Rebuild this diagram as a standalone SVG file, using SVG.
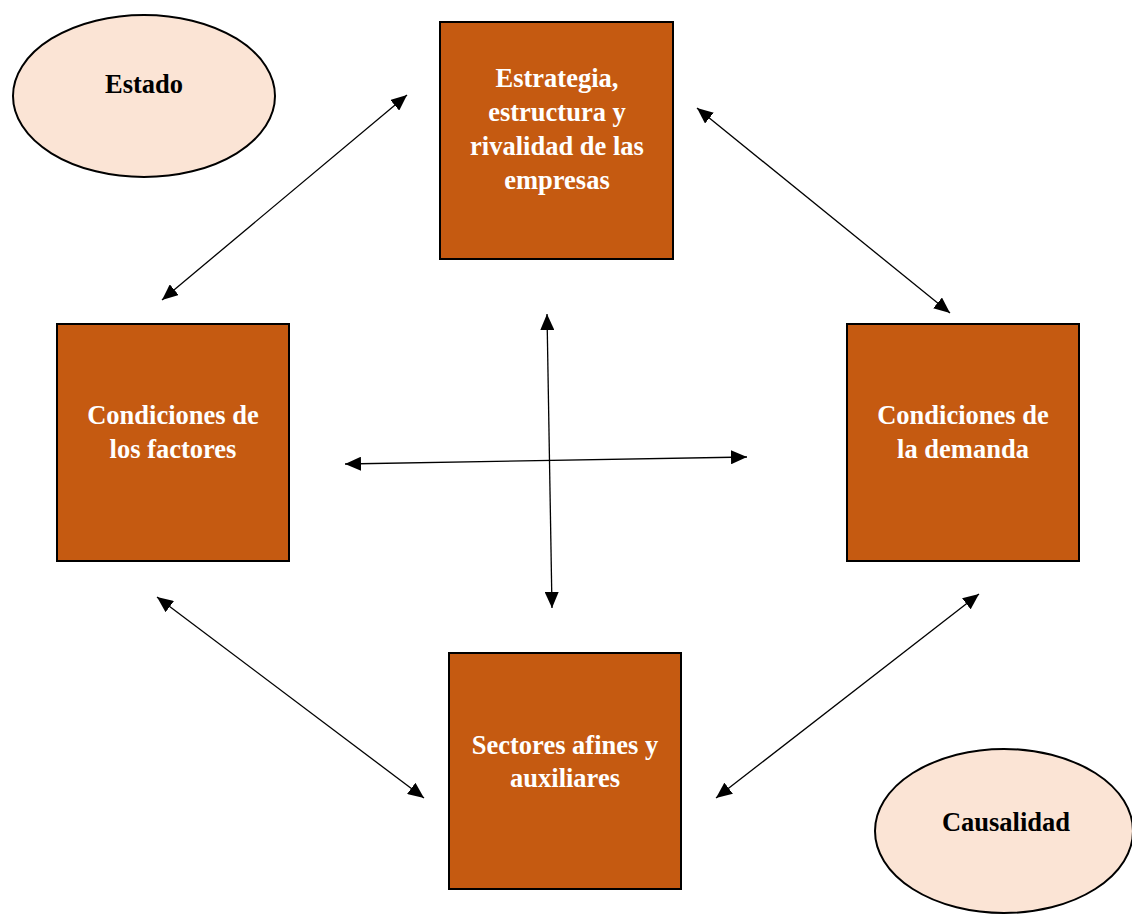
<svg xmlns="http://www.w3.org/2000/svg" width="1132" height="915" viewBox="0 0 1132 915">
<style>
.box{fill:#C55A11;stroke:#000;stroke-width:2}
.ell{fill:#FBE4D5;stroke:#000;stroke-width:2}
.wt{font-family:"Liberation Serif",serif;font-weight:bold;font-size:26.5px;fill:#fff;text-anchor:middle}
.bt{font-family:"Liberation Serif",serif;font-weight:bold;font-size:26.5px;fill:#000;text-anchor:middle}
.con line{stroke:#000;stroke-width:1.3;marker-start:url(#ah);marker-end:url(#ah)}
</style>
<defs>
<marker id="ah" markerUnits="userSpaceOnUse" markerWidth="16" markerHeight="14" refX="16" refY="7" orient="auto-start-reverse">
<path d="M0,0 L16,7 L0,14 z" fill="#000"/>
</marker>
</defs>
<rect width="1132" height="915" fill="#fff"/>
<g id="estado">
<ellipse class="ell" cx="144" cy="96" rx="131" ry="81"/>
<text class="bt" x="144" y="93">Estado</text>
</g>
<g id="causalidad">
<ellipse class="ell" cx="1004" cy="831" rx="129" ry="82"/>
<text class="bt" x="1006" y="831">Causalidad</text>
</g>
<g id="estrategia">
<rect class="box" x="440" y="22" width="233" height="237"/>
<text class="wt" x="557" y="87">Estrategia,</text>
<text class="wt" x="557" y="121">estructura y</text>
<text class="wt" x="557" y="155">rivalidad de las</text>
<text class="wt" x="557" y="189">empresas</text>
</g>
<g id="factores">
<rect class="box" x="57" y="324" width="232" height="237"/>
<text class="wt" x="173" y="424">Condiciones de</text>
<text class="wt" x="173" y="458">los factores</text>
</g>
<g id="demanda">
<rect class="box" x="847" y="324" width="232" height="237"/>
<text class="wt" x="963" y="424">Condiciones de</text>
<text class="wt" x="963" y="458">la demanda</text>
</g>
<g id="sectores">
<rect class="box" x="449" y="653" width="232" height="236"/>
<text class="wt" x="565" y="754">Sectores afines y</text>
<text class="wt" x="565" y="787">auxiliares</text>
</g>
<g class="con" id="connectors">
<line x1="162" y1="300" x2="407" y2="95"/>
<line x1="697" y1="108" x2="950" y2="313"/>
<line x1="157" y1="597" x2="424" y2="798"/>
<line x1="979" y1="594" x2="716" y2="798"/>
<line x1="547" y1="314" x2="552" y2="608"/>
<line x1="345" y1="464" x2="747" y2="457"/>
</g>
</svg>
